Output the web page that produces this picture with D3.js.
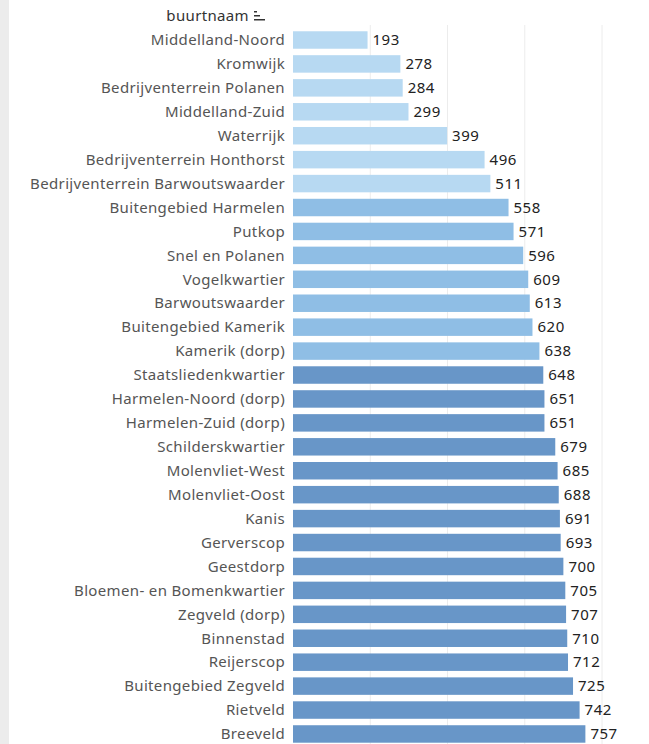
<!DOCTYPE html>
<html><head><meta charset="utf-8">
<script src="https://cdn.jsdelivr.net/npm/d3@7"></script>
<style>body{margin:0;background:#fff;}svg{display:block;}</style>
</head><body>
<svg id="c" width="649" height="744"></svg>
<script>
const categories = ["Middelland-Noord","Kromwijk","Bedrijventerrein Polanen","Middelland-Zuid","Waterrijk","Bedrijventerrein Honthorst","Bedrijventerrein Barwoutswaarder","Buitengebied Harmelen","Putkop","Snel en Polanen","Vogelkwartier","Barwoutswaarder","Buitengebied Kamerik","Kamerik (dorp)","Staatsliedenkwartier","Harmelen-Noord (dorp)","Harmelen-Zuid (dorp)","Schilderskwartier","Molenvliet-West","Molenvliet-Oost","Kanis","Gerverscop","Geestdorp","Bloemen- en Bomenkwartier","Zegveld (dorp)","Binnenstad","Reijerscop","Buitengebied Zegveld","Rietveld","Breeveld"];
const values = [193,278,284,299,399,496,511,558,571,596,609,613,620,638,648,651,651,679,685,688,691,693,700,705,707,710,712,725,742,757];
const groups = [0,0,0,0,0,0,0,1,1,1,1,1,1,1,2,2,2,2,2,2,2,2,2,2,2,2,2,2,2,2];
const groupColors = ["#b7d9f2","#8fbee5","#6896c8"];
const gridTicks = [200,400,600,800];
const headerLabel = "buurtnaam";

const svg = d3.select("#c");
const font = "'Noto Sans', sans-serif";

// left faint strip
svg.append("rect").attr("x",0).attr("y",0).attr("width",9).attr("height",744).attr("fill","#ececec");

const x = d3.scaleLinear().domain([0,800]).range([293,602]);
const step = 23.93;
const y = d3.scaleBand().domain(categories)
  .range([40 - step/2, 40 - step/2 + step*categories.length])
  .paddingInner(0.27).paddingOuter(0.135);

// gridlines
svg.append("g").selectAll("line").data(gridTicks).join("line")
  .attr("x1",d=>x(d)).attr("x2",d=>x(d))
  .attr("y1",25).attr("y2",744)
  .attr("stroke","#ececec").attr("stroke-width",1);

// bars
svg.append("g").selectAll("rect").data(categories).join("rect")
  .attr("x",x(0)).attr("y",d=>y(d))
  .attr("width",(d,i)=>x(values[i])-x(0))
  .attr("height",y.bandwidth())
  .attr("fill",(d,i)=>groupColors[groups[i]]);

// category labels
svg.append("g").selectAll("text").data(categories).join("text")
  .attr("x",285).attr("y",d=>y(d)+y.bandwidth()/2)
  .attr("dy","0.35em").attr("text-anchor","end")
  .attr("font-family",font).attr("font-size",15).attr("letter-spacing","0.35px").attr("fill","#555")
  .text(d=>d);

// value labels
svg.append("g").selectAll("text").data(categories).join("text")
  .attr("x",(d,i)=>x(values[i])+5).attr("y",d=>y(d)+y.bandwidth()/2)
  .attr("dy","0.35em")
  .attr("font-family",font).attr("font-size",15).attr("letter-spacing","0.5px").attr("fill","#222")
  .text((d,i)=>values[i]);

// header
svg.append("text").attr("x",249).attr("y",16).attr("dy","0.35em").attr("text-anchor","end")
  .attr("font-family",font).attr("font-size",15).attr("letter-spacing","0.35px").attr("fill","#333").text(headerLabel);
// sort icon
const ic = svg.append("g").attr("fill","#333");
ic.append("rect").attr("x",254).attr("y",11).attr("width",3).attr("height",1.5);
ic.append("rect").attr("x",254).attr("y",15).attr("width",6).attr("height",1.5);
ic.append("rect").attr("x",254).attr("y",19).attr("width",11).attr("height",1.5);
</script>
</body></html>
